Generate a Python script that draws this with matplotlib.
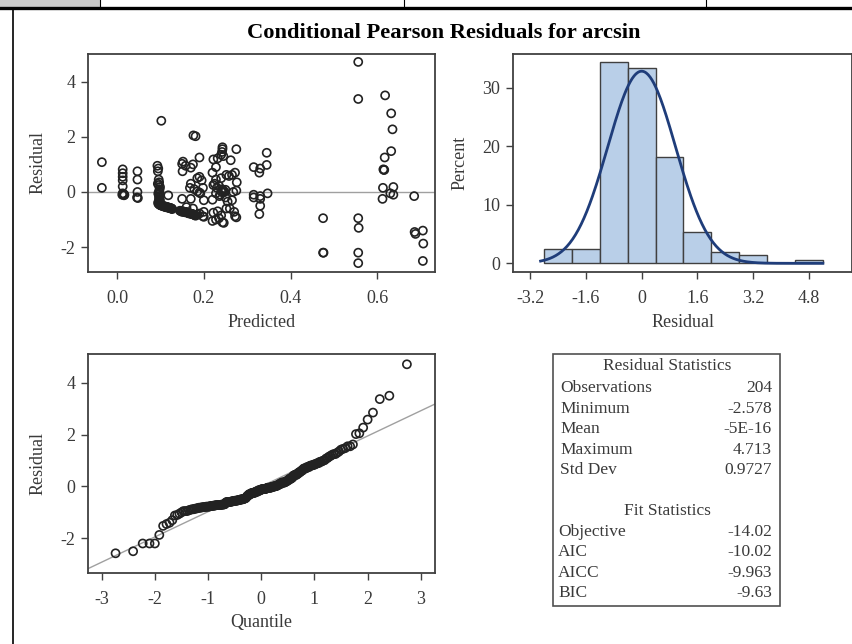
"""
Conditional Pearson residual panel for arcsin (SAS-style diagnostics).
"""
from statistics import NormalDist

import matplotlib
matplotlib.use("Agg")
import matplotlib.pyplot as plt
from matplotlib.lines import Line2D
from matplotlib.patches import Rectangle
import numpy as np

# residuals vs predicted, grouped by the vertical columns seen in the plot
pred_a = [-0.035, -0.035]
res_a = [1.08, 0.15]
pred_b = [0.013, 0.013, 0.013, 0.013, 0.013, 0.013, 0.015, 0.012, 0.017, 0.014, 0.016]
res_b = [0.82, 0.68, 0.55, 0.42, 0.2, -0.05, -0.08, -0.1, -0.1, -0.07, -0.12]
pred_c = [0.047, 0.047, 0.047, 0.046, 0.048]
res_c = [0.75, 0.45, 0.0, -0.2, -0.22]
pred_d = [0.093, 0.095, 0.094, 0.096, 0.097, 0.096, 0.098, 0.097, 0.095, 0.098, 0.097, 0.096,
          0.094, 0.099, 0.098, 0.096, 0.097, 0.099, 0.095, 0.102, 0.118]
res_d = [0.95, 0.85, 0.75, 0.45, 0.35, 0.25, 0.1, 0.02, -0.05, -0.15, -0.25, -0.35,
         0.3, 0.18, -0.02, -0.1, -0.2, -0.3, -0.38, 2.58, -0.12]
pred_d_streak = [0.095, 0.097, 0.099, 0.100, 0.102, 0.104, 0.106, 0.108, 0.110, 0.112, 0.114, 0.116,
                 0.118, 0.120, 0.122, 0.124, 0.126, 0.127, 0.100, 0.105, 0.110, 0.115, 0.120, 0.125]
res_d_streak = [-0.42, -0.45, -0.46, -0.48, -0.49, -0.50, -0.50, -0.52, -0.53, -0.53, -0.55, -0.55,
                -0.56, -0.57, -0.58, -0.59, -0.60, -0.62, -0.47, -0.51, -0.54, -0.56, -0.58, -0.60]
pred_e = [0.152, 0.150, 0.158, 0.151, 0.150]
res_e = [1.1, 1.02, 0.95, 0.75, -0.25]
pred_e_streak = [0.145, 0.147, 0.149, 0.151, 0.153, 0.155, 0.157, 0.159, 0.161, 0.163, 0.165,
                 0.167, 0.169, 0.171, 0.173, 0.175, 0.177, 0.179, 0.181, 0.150, 0.158, 0.166]
res_e_streak = [-0.68, -0.69, -0.70, -0.70, -0.71, -0.72, -0.72, -0.73, -0.74, -0.75, -0.76,
                -0.77, -0.78, -0.79, -0.80, -0.81, -0.82, -0.84, -0.86, -0.72, -0.74, -0.78]
pred_f = [0.176, 0.181, 0.190, 0.175, 0.170, 0.190, 0.185, 0.195, 0.170, 0.168, 0.198, 0.185,
          0.190, 0.192, 0.170, 0.200, 0.160, 0.200, 0.185, 0.200, 0.198, 0.178, 0.175, 0.190]
res_f = [2.05, 2.02, 1.25, 1.0, 0.88, 0.55, 0.5, 0.42, 0.3, 0.15, 0.15, 0.02,
         -0.02, -0.05, -0.25, -0.3, -0.55, -0.72, -0.82, -0.9, -0.88, 0.1, -0.6, -0.78]
pred_g = [0.243, 0.243, 0.242, 0.240, 0.245, 0.232, 0.222, 0.228, 0.220, 0.252, 0.258, 0.240,
          0.228, 0.225, 0.235, 0.242, 0.245, 0.240, 0.248, 0.228, 0.238, 0.250, 0.220, 0.255,
          0.252, 0.222, 0.235, 0.220, 0.243, 0.246, 0.230, 0.236, 0.250, 0.222, 0.244,
          0.232, 0.240, 0.228]
res_g = [1.62, 1.55, 1.45, 1.35, 1.3, 1.22, 1.18, 0.9, 0.7, 0.62, 0.58, 0.5,
         0.45, 0.3, 0.22, 0.1, 0.05, 0.02, 0.0, -0.05, -0.1, -0.2, -0.28, -0.35,
         -0.6, -0.75, -0.95, -1.05, -1.1, -1.12, 0.15, -0.15, 0.08, 0.25, -0.02,
         -0.7, -0.85, -1.0]
pred_h = [0.275, 0.262, 0.272, 0.265, 0.276, 0.275, 0.268, 0.265, 0.260, 0.270, 0.272, 0.275]
res_h = [1.55, 1.15, 0.7, 0.62, 0.35, 0.05, 0.0, -0.3, -0.6, -0.72, -0.88, -0.92]
pred_i = [0.345, 0.345, 0.315, 0.330, 0.328, 0.347, 0.315, 0.330, 0.315, 0.330, 0.330, 0.328]
res_i = [1.42, 0.98, 0.9, 0.85, 0.7, -0.05, -0.1, -0.15, -0.2, -0.25, -0.5, -0.8]
pred_right = [0.475, 0.475, 0.476, 0.556, 0.556, 0.556, 0.557, 0.556, 0.556,
              0.618, 0.632, 0.635, 0.632, 0.617, 0.614, 0.616, 0.615, 0.613, 0.637, 0.630,
              0.637, 0.612, 0.685, 0.686, 0.688, 0.705, 0.706, 0.705]
res_right = [-0.95, -2.2, -2.2, 4.713, 3.37, -0.95, -1.3, -2.2, -2.578,
             3.5, 2.85, 2.27, 1.48, 1.25, 0.82, 0.8, 0.8, 0.15, 0.18, -0.05,
             -0.1, -0.25, -0.15, -1.45, -1.52, -1.4, -1.87, -2.5]

predicted = np.array(pred_a + pred_b + pred_c + pred_d + pred_d_streak + pred_e + pred_e_streak
                     + pred_f + pred_g + pred_h + pred_i + pred_right)
residual = np.array(res_a + res_b + res_c + res_d + res_d_streak + res_e + res_e_streak
                    + res_f + res_g + res_h + res_i + res_right)

# histogram (percent per bin of width 0.8)
bin_left = [-2.8, -2.0, -1.2, -0.4, 0.4, 1.2, 2.0, 2.8, 3.6, 4.4]
bin_pct = [2.45, 2.45, 34.3, 33.3, 18.1, 5.4, 2.0, 1.5, 0.0, 0.5]
bin_width = 0.8

stat_names = ["Observations", "Minimum", "Mean", "Maximum", "Std Dev"]
stat_values = ["204", "-2.578", "-5E-16", "4.713", "0.9727"]
fit_names = ["Objective", "AIC", "AICC", "BIC"]
fit_values = ["-14.02", "-10.02", "-9.963", "-9.63"]
res_mean = 0.0
res_std = 0.9727

plt.rcParams["font.family"] = ["Liberation Serif", "DejaVu Serif"]
plt.rcParams["axes.unicode_minus"] = False

W, H = 853, 644
fig = plt.figure(figsize=(W / 100, H / 100), dpi=100)

frame_c = "#404040"
text_c = "#3a3a3a"
lab_fs = 13


def ax_rect(x0, y0, x1, y1):
    return [x0 / W, 1 - y1 / H, (x1 - x0) / W, (y1 - y0) / H]


def style(ax):
    for s in ax.spines.values():
        s.set_color(frame_c)
        s.set_linewidth(1.3)
    ax.tick_params(direction="out", length=5, width=1, color=frame_c,
                   labelcolor=text_c, labelsize=lab_fs)
    ax.tick_params(axis="x", pad=8)
    ax.tick_params(axis="y", pad=4)


# page decorations
fig.patches.append(Rectangle((0, 1 - 6.5 / H), 100 / W, 6.5 / H, transform=fig.transFigure,
                             facecolor="#c8c8c8", edgecolor="none"))
fig.lines.append(Line2D([0, 1], [1 - 8 / H, 1 - 8 / H], transform=fig.transFigure,
                        color="black", lw=2.4))
for xv in (100, 404, 706):
    fig.lines.append(Line2D([xv / W, xv / W], [1, 1 - 7 / H], transform=fig.transFigure,
                            color="black", lw=0.8))
fig.lines.append(Line2D([13 / W, 13 / W], [1 - 9 / H, 0], transform=fig.transFigure,
                        color="black", lw=1.2))

fig.text(444 / W, 1 - 33 / H, "Conditional Pearson Residuals for arcsin", ha="center",
         va="center", fontsize=16.2, fontweight="bold", color="black")

# residual vs predicted
ax1 = fig.add_axes(ax_rect(88, 54, 435, 272))
ax1.axhline(0, color="#a0a0a0", lw=1, zorder=1)
ax1.scatter(predicted, residual, s=34, facecolors="none", edgecolors="#222222",
            linewidths=1.2, zorder=2)
ax1.set_xlim(-0.067, 0.733)
ax1.set_ylim(-2.9, 5.0)
ax1.set_xticks([0.0, 0.2, 0.4, 0.6], ["0.0", "0.2", "0.4", "0.6"])
ax1.set_yticks([-2, 0, 2, 4], ["-2", "0", "2", "4"])
style(ax1)
ax1.set_xlabel("Predicted", fontsize=lab_fs, color=text_c)
ax1.set_ylabel("Residual", fontsize=lab_fs, color=text_c)
ax1.xaxis.label.set_va("center")
ax1.yaxis.label.set_va("center")
ax1.xaxis.set_label_coords(0.5, (272 - 322.7) / 218)
ax1.yaxis.set_label_coords((38 - 88) / 347, 0.5)

# histogram with normal curve
ax2 = fig.add_axes(ax_rect(512.7, 54, 852.5, 272))
ax2.bar(bin_left, bin_pct, width=bin_width, align="edge", color="#b9cfe8",
        edgecolor=frame_c, linewidth=1, zorder=2)
xs = np.linspace(-2.9, 5.2, 300)
dens = np.exp(-0.5 * ((xs - res_mean) / res_std) ** 2) / (res_std * np.sqrt(2 * np.pi))
ax2.plot(xs, dens * bin_width * 100, color="#1f3d7a", lw=2, zorder=3)
ax2.set_xlim(-3.70, 6.05)
ax2.set_ylim(-1.48, 35.75)
ax2.set_xticks([-3.2, -1.6, 0, 1.6, 3.2, 4.8], ["-3.2", "-1.6", "0", "1.6", "3.2", "4.8"])
ax2.set_yticks([0, 10, 20, 30], ["0", "10", "20", "30"])
style(ax2)
ax2.set_xlabel("Residual", fontsize=lab_fs, color=text_c)
ax2.set_ylabel("Percent", fontsize=lab_fs, color=text_c)
ax2.xaxis.label.set_va("center")
ax2.yaxis.label.set_va("center")
ax2.xaxis.set_label_coords(0.5, (272 - 322.7) / 218)
ax2.yaxis.set_label_coords((460 - 512.7) / 340, 0.5)

# normal Q-Q plot
n = len(residual)
nd = NormalDist()
quant = np.array([nd.inv_cdf((i + 1 - 0.375) / (n + 0.25)) for i in range(n)])
ax3 = fig.add_axes(ax_rect(88, 354, 435, 573.3))
ax3.axline((0, res_mean), slope=res_std, color="#a0a0a0", lw=1, zorder=1)
ax3.scatter(quant, np.sort(residual), s=34, facecolors="none", edgecolors="#222222",
            linewidths=1.2, zorder=2)
ax3.set_xlim(-3.26, 3.27)
ax3.set_ylim(-3.35, 5.11)
ax3.set_xticks(range(-3, 4), [str(v) for v in range(-3, 4)])
ax3.set_yticks([-2, 0, 2, 4], ["-2", "0", "2", "4"])
style(ax3)
ax3.set_xlabel("Quantile", fontsize=lab_fs, color=text_c)
ax3.set_ylabel("Residual", fontsize=lab_fs, color=text_c)
ax3.xaxis.label.set_va("center")
ax3.yaxis.label.set_va("center")
ax3.xaxis.set_label_coords(0.5, (573.3 - 623) / 219.3)
ax3.yaxis.set_label_coords((38 - 88) / 347, 0.5)

# statistics table
fig.patches.append(Rectangle((553.3 / W, 1 - 605.7 / H), (780 - 553.3) / W, (605.7 - 354) / H,
                             transform=fig.transFigure, facecolor="white",
                             edgecolor="#505050", lw=1.2))
fs = 12.5
fig.text(667 / W, 1 - 366 / H, "Residual Statistics", ha="center", va="center",
         fontsize=fs, color=text_c)
for k, (nm, val) in enumerate(zip(stat_names, stat_values)):
    y = 388.3 + k * 20.5
    fig.text(560.5 / W, 1 - y / H, nm, ha="left", va="center", fontsize=fs, color=text_c)
    fig.text(772 / W, 1 - y / H, val, ha="right", va="center", fontsize=fs, color=text_c)
fig.text(667 / W, 1 - 511 / H, "Fit Statistics", ha="center", va="center",
         fontsize=fs, color=text_c)
for k, (nm, val) in enumerate(zip(fit_names, fit_values)):
    y = 531.5 + k * 20.6
    fig.text(558 / W, 1 - y / H, nm, ha="left", va="center", fontsize=fs, color=text_c)
    fig.text(772 / W, 1 - y / H, val, ha="right", va="center", fontsize=fs, color=text_c)

fig.savefig("out.png", dpi=100)
